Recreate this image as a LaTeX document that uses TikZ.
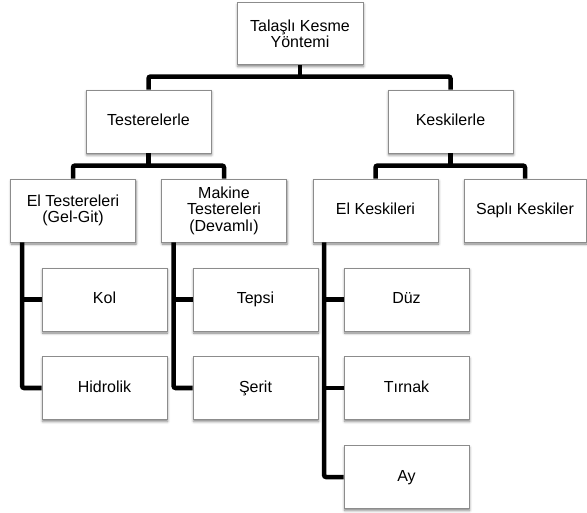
\documentclass[tikz,border=0pt]{standalone}
\usepackage{fontspec}
\setmainfont{Liberation Sans}
\usetikzlibrary{shadows.blur}
\begin{document}
\begin{tikzpicture}[x=1pt,y=-1pt,
  box/.style={draw=black!45, line width=0.8pt, fill=white,
    minimum width=125pt, minimum height=63pt, align=center, inner sep=0pt,
    font=\fontsize{16}{16.4}\selectfont,
    blur shadow={shadow xshift=0.6pt, shadow yshift=-2pt, shadow blur radius=2.5pt, shadow opacity=50}},
  oneline/.style={text height=11.6pt, text depth=3.6pt},
  conn/.style={line width=4.5pt, rounded corners=2pt}]
\useasboundingbox (0,0) rectangle (587,513);
% boxes
\node[box, minimum width=126pt, minimum height=62pt] (top) at (300,33.5) {Talaşlı Kesme\\Yöntemi};
\node[box, oneline] (test) at (148.5,121.5) {Testerelerle};
\node[box, oneline] (kesk) at (450.5,121.5) {Keskilerle};
\node[box] (elt) at (73,210.5) {El Testereleri\\(Gel-Git)};
\node[box] (mak) at (224,210.5) {Makine\\Testereleri\\(Devamlı)};
\node[box, oneline] (elk) at (375.5,210.5) {El Keskileri};
\node[box, oneline, minimum width=122pt] (sap) at (525,210.5) {Saplı Keskiler};
\node[box, oneline] (kol) at (104.5,299.5) {Kol};
\node[box, oneline] (hid) at (104.5,388) {Hidrolik};
\node[box, oneline] (tep) at (255.5,299.5) {Tepsi};
\node[box, oneline] (ser) at (255.5,388) {Şerit};
\node[box, oneline] (duz) at (406.5,299.5) {Düz};
\node[box, oneline] (tir) at (406.5,388) {Tırnak};
\node[box, oneline] (ay) at (406.5,477) {Ay};
% connectors
\draw[conn] (top.south) -- ++(0,13);
\draw[conn] (test.north) -- ++(0,-13) -| (kesk.north);
\draw[conn] (test.south) -- ++(0,13);
\draw[conn] (elt.north) -- ++(0,-13) -| (mak.north);
\draw[conn] (kesk.south) -- ++(0,13);
\draw[conn] (elk.north) -- ++(0,-13) -| (sap.north);
\coordinate (eltx) at ([xshift=12pt]elt.south west);
\coordinate (makx) at ([xshift=12.5pt]mak.south west);
\coordinate (elkx) at ([xshift=11.5pt]elk.south west);
\draw[conn] (eltx) |- (hid.west);
\draw[conn] (eltx |- kol.west) -- (kol.west);
\draw[conn] (makx) |- (ser.west);
\draw[conn] (makx |- tep.west) -- (tep.west);
\draw[conn] (elkx) |- (ay.west);
\draw[conn] (elkx |- duz.west) -- (duz.west);
\draw[conn] (elkx |- tir.west) -- (tir.west);
\end{tikzpicture}
\end{document}
